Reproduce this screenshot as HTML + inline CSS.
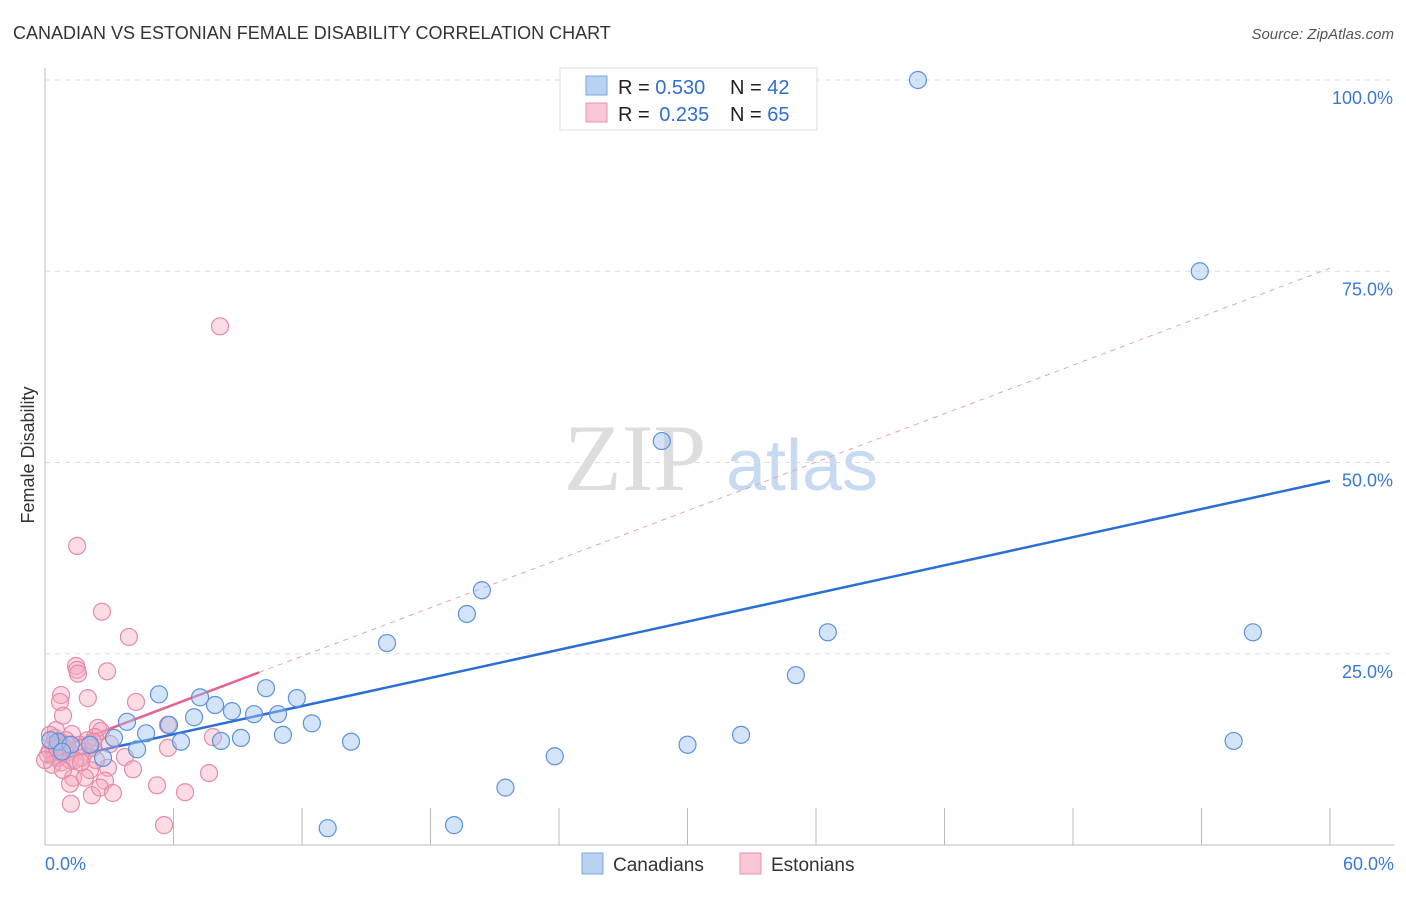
<!DOCTYPE html>
<html><head><meta charset="utf-8"><style>
body{margin:0;background:#fff;font-family:"Liberation Sans",sans-serif}
</style></head><body>
<svg id="chart" width="1406" height="892" xmlns="http://www.w3.org/2000/svg" font-family="Liberation Sans, sans-serif">
<text x="13" y="39" font-size="18" fill="#333">CANADIAN VS ESTONIAN FEMALE DISABILITY CORRELATION CHART</text>
<text x="1394" y="39" font-size="15" fill="#555" text-anchor="end" font-style="italic">Source: ZipAtlas.com</text>
<text transform="translate(34,455) rotate(-90)" font-size="18" fill="#333" text-anchor="middle">Female Disability</text>
<g><text x="635" y="490" font-size="95" fill="#ddd" text-anchor="middle" font-family="Liberation Serif, serif">ZIP</text><text x="802" y="490" font-size="72" fill="#c7daf1" text-anchor="middle">atlas</text></g>
<g id="grid"></g><g id="ticks"></g><g id="lines"></g><g id="points"></g>
<g>
<rect x="560" y="68" width="257" height="62" fill="#fff" stroke="#ddd"/>
<rect x="586" y="76" width="21" height="19" fill="#b8d2f3" stroke="#7aa6e0"/>
<rect x="586" y="103" width="21" height="19" fill="#f8c6d5" stroke="#eb93b0"/>
<text x="618" y="94" font-size="20" fill="#222">R = <tspan fill="#2f6fd0">0.530</tspan></text>
<text x="730" y="94" font-size="20" fill="#222">N = <tspan fill="#2f6fd0">42</tspan></text>
<text x="618" y="121" font-size="20" fill="#222">R = <tspan fill="#2f6fd0" dx="4">0.235</tspan></text>
<text x="730" y="121" font-size="20" fill="#222">N = <tspan fill="#2f6fd0">65</tspan></text>
</g>
<g>
<rect x="582" y="853" width="21" height="21" fill="#b8d2f3" stroke="#7aa6e0"/>
<text x="613" y="871" font-size="19" fill="#333">Canadians</text>
<rect x="740" y="853" width="21" height="21" fill="#f8c6d5" stroke="#eb93b0"/>
<text x="771" y="871" font-size="19" fill="#333">Estonians</text>
</g>
</svg>
<script>
const yTicks=[25,50,75,100];
const yTickLabels=["25.0%","50.0%","75.0%","100.0%"];
const xTicks=[0,6,12,18,24,30,36,42,48,54,60];
const canX=[40.76,53.92,28.8,20.4,19.7,15.97,36.55,56.4,35.06,5.32,10.32,7.24,11.76,7.94,8.73,9.76,6.96,10.88,3.83,5.79,12.46,4.72,3.22,6.35,9.15,11.11,8.22,14.29,4.3,2.71,23.8,30.0,32.5,55.5,21.5,13.2,19.1,0.6,1.2,2.1,0.25,0.8];
const canY=[100,75,52.8,33.3,30.2,26.4,27.8,27.8,22.2,19.7,20.5,19.3,19.2,18.3,17.5,17.1,16.7,17.1,16.1,15.7,15.9,14.6,14.0,13.5,14.0,14.4,13.6,13.5,12.5,11.4,11.6,13.1,14.4,13.6,7.5,2.2,2.6,13.5,13.1,13.1,13.7,12.2];
const estX=[8.17,1.5,2.66,3.92,1.45,1.5,1.54,2.9,0.75,2.0,4.25,0.7,0.84,2.47,1.26,0.47,0.7,0.23,0.47,0.93,1.17,1.63,1.87,2.24,2.61,2.33,5.74,7.84,5.74,3.73,0.75,1.17,1.73,2.1,2.94,1.31,1.87,4.11,7.66,2.8,1.17,2.19,2.57,3.17,5.23,6.54,1.21,5.56,0.51,0.23,0.37,0.61,0.98,1.4,2.0,2.38,0.14,0.33,0.84,0,0.56,1.03,1.68,2.24,3.03];
const estY=[67.8,39.1,30.5,27.2,23.4,22.9,22.4,22.7,19.6,19.2,18.7,18.7,16.9,15.3,14.5,14.0,13.5,12.4,11.6,12.7,12.2,13.1,12.2,12.7,14.9,14.1,15.7,14.1,12.7,11.5,10.8,11.1,11.4,9.8,10.1,8.8,8.8,9.9,9.4,8.4,8.0,6.5,7.5,6.8,7.8,6.9,5.4,2.6,15.0,14.4,13.1,11.4,13.7,11.1,13.7,11.1,11.8,10.5,9.8,11.1,12.7,13.1,10.8,13.5,13.2];
const canLine=[10.8,47.6]; // y at x=0 and x=60
const estLine=[12.0,75.4]; const estSolidEnd=10;
const NS="http://www.w3.org/2000/svg";
const X=v=>45+v*1285/60, Y=v=>845-v*7.65;
function mk(p,t,a){const e=document.createElementNS(NS,t);for(const k in a)e.setAttribute(k,a[k]);document.getElementById(p).appendChild(e);return e;}
yTicks.forEach((t,i)=>{
 const g=mk('grid','line',{x1:45,x2:1394,y1:Y(t),y2:Y(t),stroke:'#ddd','stroke-dasharray':'5,5'});
 
 
 const l=mk('grid','text',{x:1393,y:Y(t)+24,'font-size':18,fill:'#3a78d4','text-anchor':'end'});l.textContent=yTickLabels[i];
 
 
});
const ax=mk('ticks','line',{x1:45,x2:1394,y1:845,y2:845,stroke:'#bbb'});


const ay=mk('ticks','line',{x1:45,x2:45,y1:68,y2:845,stroke:'#bbb'});


xTicks.forEach(t=>{const e=mk('ticks','line',{x1:X(t),x2:X(t),y1:808,y2:845,stroke:'#bbb'});
 
 });
[["0.0%",45,'start'],["60.0%",1394,'end']].forEach(a=>{const e=mk('ticks','text',{x:a[1],y:870,'font-size':18,fill:'#3a78d4','text-anchor':a[2]});e.textContent=a[0];
 
 });
function pts(xs,ys,fill,stroke,name){xs.forEach((x,i)=>{const c=mk('points','circle',{cx:X(x),cy:Y(ys[i]),r:8.5,fill:fill,stroke:stroke,'stroke-width':1.2});
 
 });}
pts(estX,estY,'rgba(244,167,190,0.4)','#e58aa8','estonian-point');
pts(canX,canY,'rgba(160,196,240,0.45)','#5c92dc','canadian-point');
const el=v=>estLine[0]+(estLine[1]-estLine[0])*v/60;
const d=mk('lines','line',{x1:X(estSolidEnd),y1:Y(el(estSolidEnd)),x2:X(60),y2:Y(estLine[1]),stroke:'#eba0b8','stroke-dasharray':'5,5','stroke-width':1});


const s=mk('lines','line',{x1:X(0),y1:Y(estLine[0]),x2:X(estSolidEnd),y2:Y(el(estSolidEnd)),stroke:'#e8628e','stroke-width':2.5});


const b=mk('lines','line',{x1:X(0),y1:Y(canLine[0]),x2:X(60),y2:Y(canLine[1]),stroke:'#2b6fd6','stroke-width':2.5});


</script>
</body></html>
